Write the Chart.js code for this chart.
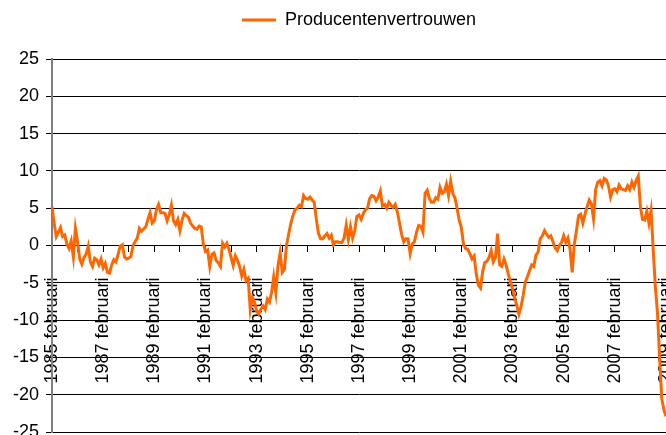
<!DOCTYPE html>
<html lang="nl">
<head>
    <meta charset="UTF-8">
    <title>Producentenvertrouwen</title>
    <script src="https://cdn.jsdelivr.net/npm/chart.js"></script>
    <style>
        body {
            margin: 0;
            background-color: white;
        }
        #chart {
            display: block;
        }
    </style>
</head>
<body>
    <canvas id="chart" width="666" height="435"></canvas>

    <script>
        // tick labels
        const startJaar = 1985;
        const maanden = ['januari', 'februari', 'maart', 'april', 'mei', 'juni',
            'juli', 'augustus', 'september', 'oktober', 'november', 'december'];
        const yTicks = [-25, -20, -15, -10, -5, 0, 5, 10, 15, 20, 25];

        // monthly values, februari 1985 - februari 2009 (one row = 12 months)
        const producentenvertrouwen = [
            5.2, 3.0, 1.2, 1.8, 2.4, 1.2, 1.4, 0.2, -0.4, 0.6, -1.5, 2.3,
            0.5, -1.8, -2.5, -1.6, -1.2, -0.1, -2.2, -2.8, -1.7, -1.9, -2.6, -1.8,
            -3.0, -2.4, -3.6, -3.7, -2.6, -1.9, -2.2, -1.2, -0.1, 0.1, -1.5, -1.8,
            -1.7, -1.5, 0.0, 0.5, 1.0, 2.3, 1.9, 2.2, 2.5, 3.5, 4.4, 3.0,
            3.3, 4.8, 5.5, 4.4, 4.4, 4.3, 3.3, 4.1, 5.4, 3.3, 2.8, 3.5,
            2.0, 3.4, 4.3, 4.0, 3.8, 3.0, 2.6, 2.3, 2.2, 2.6, 2.5, 0.2,
            -0.8, -0.6, -2.8, -1.2, -1.0, -2.0, -2.3, -2.8, 0.3, -0.2, 0.3, -0.5,
            -1.6, -2.7, -1.4, -2.0, -2.8, -4.1, -3.2, -4.7, -4.4, -8.6, -7.0, -7.6,
            -8.8, -9.2, -8.5, -8.1, -8.6, -7.2, -7.6, -6.3, -4.2, -6.3, -2.7, -1.0,
            -3.6, -3.2, 0.0, 1.5, 2.9, 4.0, 4.8, 5.0, 5.4, 5.2, 6.7, 6.3,
            6.2, 6.5, 6.1, 5.8, 3.5, 1.6, 0.9, 0.9, 1.3, 1.6, 1.0, 1.4,
            0.1, 0.5, 0.5, 0.4, 0.4, 1.0, 2.7, 0.8, 2.5, 1.0, 2.0, 3.9,
            4.1, 3.5, 4.3, 4.8, 5.0, 6.3, 6.7, 6.6, 6.0, 6.5, 7.3, 5.3,
            5.5, 5.0, 5.8, 5.4, 5.1, 5.5, 4.5, 3.0, 1.5, 0.5, 0.9, 0.9,
            -1.1, 0.2, 0.5, 1.8, 2.7, 2.6, 1.8, 7.0, 7.4, 6.3, 5.8, 5.8,
            6.4, 6.2, 7.8, 7.0, 7.2, 8.2, 6.7, 8.6, 7.0, 6.4, 5.0, 3.4,
            2.4, 0.2, -0.4, -0.5, -1.1, -1.8, -1.4, -3.8, -5.3, -5.7, -3.5, -2.3,
            -2.1, -1.6, -0.7, -2.2, -1.6, 1.6, -2.6, -2.8, -1.8, -2.6, -3.8, -4.8,
            -5.8, -7.0, -8.0, -9.2, -8.2, -6.7, -4.9, -4.2, -3.4, -2.6, -2.8, -1.3,
            -0.9, 0.9, 1.3, 2.0, 1.5, 1.1, 1.3, 0.5, -0.3, -0.7, 0.0, 0.4,
            1.3, 0.4, 1.0, -0.5, -3.6, 0.2, 2.0, 4.0, 4.2, 3.0, 4.2, 5.2,
            6.1, 5.6, 3.6, 7.5, 8.5, 8.7, 8.0, 9.0, 8.8, 8.0, 6.5, 7.5,
            7.6, 7.2, 8.1, 7.6, 7.5, 7.4, 8.0, 7.5, 8.5, 7.8, 8.7, 9.3,
            5.2, 3.5, 3.4, 4.6, 3.0, 4.7, -0.5, -5.5, -9.0, -15.0, -20.5, -22.0,
            -22.9
        ];

        // category labels: "1985 februari", "1985 maart", ...
        const labels = producentenvertrouwen.map((v, i) => {
            const m = i + 1;
            return (startJaar + Math.floor(m / 12)) + ' ' + maanden[m % 12];
        });

        Chart.defaults.font.family = '"Liberation Sans", Arial, sans-serif';
        Chart.defaults.font.size = 18;
        Chart.defaults.color = '#000';

        // some room between the legend and the plot
        const legendSpacing = {
            id: 'legendSpacing',
            beforeInit(chart) {
                const fit = chart.legend.fit;
                chart.legend.fit = function () {
                    fit.bind(chart.legend)();
                    this.height += 20;
                };
            }
        };

        new Chart(document.getElementById('chart'), {
            type: 'line',
            data: {
                labels: labels,
                datasets: [{
                    label: 'Producentenvertrouwen',
                    data: producentenvertrouwen,
                    borderColor: '#FF6600',
                    backgroundColor: '#FF6600',
                    borderWidth: 3,
                    pointRadius: 0,
                    tension: 0,
                    fill: false
                }]
            },
            options: {
                responsive: false,
                animation: false,
                devicePixelRatio: 1,
                layout: {
                    padding: { top: 1, right: 0, bottom: 3, left: 0 }
                },
                scales: {
                    x: {
                        position: { y: 0 },
                        offset: false,
                        grid: {
                            drawOnChartArea: false,
                            drawTicks: true,
                            tickLength: 6,
                            color: '#000'
                        },
                        border: { display: true, color: '#000', width: 1 },
                        ticks: {
                            autoSkip: false,
                            maxRotation: 90,
                            minRotation: 90,
                            padding: 26,
                            callback: (v, i) => i % 24 === 0 ? labels[i] : (i % 12 === 0 ? '' : null)
                        },
                        afterFit: (s) => { s.paddingLeft = 0; s.paddingRight = 0; }
                    },
                    y: {
                        min: -25,
                        max: 25,
                        afterBuildTicks: (s) => { s.ticks = yTicks.map(v => ({ value: v })); },
                        grid: {
                            color: '#000',
                            tickLength: 6
                        },
                        border: { display: true, color: '#808080', width: 2 },
                        ticks: { padding: 7 },
                        afterFit: (s) => { s.width = 52; s.paddingTop = 0; s.paddingBottom = 0; }
                    }
                },
                plugins: {
                    legend: {
                        position: 'top',
                        fullSize: false,
                        labels: {
                            usePointStyle: true,
                            pointStyle: 'line',
                            pointStyleWidth: 34,
                            color: '#000',
                            font: { size: 18 }
                        }
                    },
                    tooltip: { enabled: false }
                }
            },
            plugins: [legendSpacing]
        });
    </script>
</body>
</html>
